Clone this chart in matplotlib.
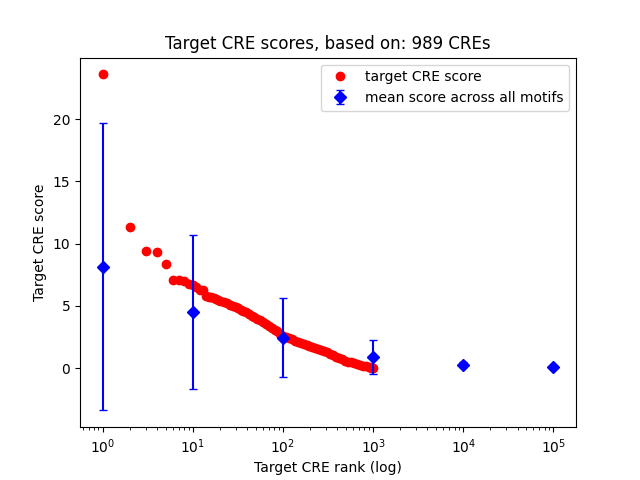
import matplotlib
matplotlib.use('Agg')
import matplotlib.pyplot as plt

# target CRE scores, sorted by rank
ranks = [1, 2, 3, 4, 5, 6, 7, 8, 9, 10, 11, 12, 13, 14, 15, 16, 17, 18, 19, 20,
         22, 24, 26, 28, 30, 32, 34, 36, 39, 42, 45, 48, 52, 56, 60, 65, 70, 75,
         81, 87, 94, 100, 108, 116, 125, 135, 146, 157, 170, 183, 197, 212, 229,
         247, 266, 287, 310, 334, 360, 389, 420, 453, 489, 527, 569, 614, 662,
         714, 770, 831, 896, 950, 989]
scores = [23.6, 11.3, 9.4, 9.3, 8.35, 7.07, 7.07, 6.98, 6.75, 6.7, 6.55, 6.3,
          6.25, 5.8, 5.75, 5.7, 5.65, 5.55, 5.45, 5.4,
          5.3, 5.2, 5.1, 5.0, 4.9, 4.8, 4.7, 4.6, 4.5, 4.35, 4.2, 4.1, 3.95,
          3.85, 3.7, 3.55, 3.4, 3.25, 3.1, 2.95, 2.75, 2.6, 2.5, 2.4, 2.3, 2.2,
          2.1, 2.0, 1.93, 1.86, 1.8, 1.72, 1.64, 1.56, 1.47, 1.37, 1.27, 1.16,
          1.05, 0.93, 0.8, 0.7, 0.6, 0.52, 0.45, 0.38, 0.32, 0.26, 0.2, 0.14,
          0.08, 0.04, 0.0]

# mean score across all motifs
mean_x = [1, 10, 100, 1000, 10000, 100000]
mean_y = [8.15, 4.5, 2.45, 0.86, 0.25, 0.06]
mean_err = [11.55, 6.2, 3.2, 1.36, 0.2, 0.08]

fig, ax = plt.subplots(figsize=(6.4, 4.8), dpi=100)
ax.plot(ranks, scores, 'ro', label='target CRE score')
ax.errorbar(mean_x, mean_y, yerr=mean_err, fmt='bD', capsize=3,
            label='mean score across all motifs')
ax.set_xscale('log')
ax.set_xlabel('Target CRE rank (log)')
ax.set_ylabel('Target CRE score')
ax.set_title('Target CRE scores, based on: 989 CREs')
ax.legend(loc='upper right')

plt.savefig('out.png')
